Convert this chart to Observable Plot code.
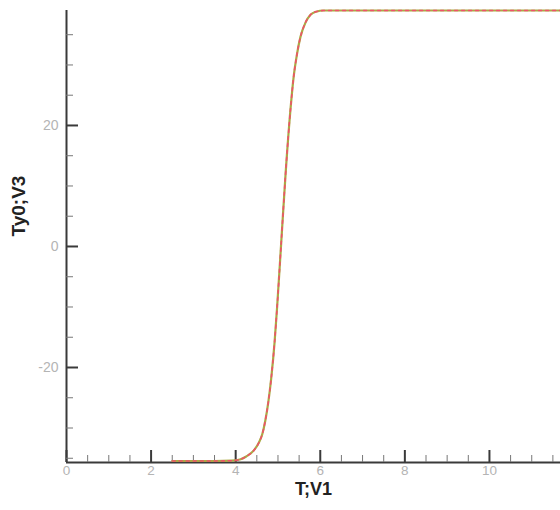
<!DOCTYPE html>
<html>
<head>
<meta charset="utf-8">
<script src="https://cdn.jsdelivr.net/npm/d3@7"></script>
<script src="https://cdn.jsdelivr.net/npm/@observablehq/plot@0.6"></script>
<style>
  html, body { margin: 0; padding: 0; background: #fff; }
  #chart svg { display: block; }
</style>
</head>
<body>
<div id="chart"></div>
<script>
// Data
const tValues = [2.5, 3.0, 3.5, 3.9, 4.1, 4.25, 4.43, 4.55, 4.63, 4.70, 4.77, 4.84, 4.92, 4.98, 5.08, 5.18, 5.30, 5.37, 5.45, 5.53, 5.65, 5.77, 5.9, 6.08, 6.5, 11.68];
const ty0Values = [-35.45, -35.45, -35.45, -35.4, -35.2, -34.7, -33.7, -32.4, -31.0, -28.8, -25.8, -21.8, -15.8, -10.0, 1.0, 12.0, 23.0, 28.0, 31.8, 34.6, 37.0, 38.3, 38.8, 39, 39, 39];
const xMajorTicks = [0, 2, 4, 6, 8, 10];
const xMinorTicks = [0.5, 1, 1.5, 2.5, 3, 3.5, 4.5, 5, 5.5, 6.5, 7, 7.5, 8.5, 9, 9.5, 10.5, 11, 11.5];
const yMajorTicks = [-20, 0, 20];
const yMinorTicks = [-35, -30, -25, -15, -10, -5, 5, 10, 15, 25, 30, 35];
const xTitle = "T;V1";
const yTitle = "Ty0;V3";

const data = tValues.map((t, i) => ({t, v: ty0Values[i]}));

const font = "Liberation Sans, Arial, sans-serif";
const labelColor = "#b4b4b4";
const axisColor = "#3a3a3a";

const chart = Plot.plot({
  width: 560,
  height: 510,
  marginLeft: 66,
  marginRight: 0,
  marginTop: 10,
  marginBottom: 48,
  style: {fontFamily: font, background: "#fff"},
  x: {domain: [0, 11.68]},
  y: {domain: [-35.7, 39]},
  marks: [
    // axis lines
    Plot.ruleX([0], {stroke: axisColor, strokeWidth: 2}),
    Plot.ruleY([-35.7], {stroke: axisColor, strokeWidth: 2}),
    // inward ticks
    Plot.axisX(xMajorTicks, {tickSize: -12, tickFormat: () => "", stroke: axisColor, strokeWidth: 2, label: null}),
    Plot.axisX(xMinorTicks, {tickSize: -7, tickFormat: () => "", stroke: "#777", strokeWidth: 1, label: null}),
    Plot.axisY(yMajorTicks, {tickSize: -12, tickFormat: () => "", stroke: axisColor, strokeWidth: 2, label: null}),
    Plot.axisY(yMinorTicks, {tickSize: -7, tickFormat: () => "", stroke: "#777", strokeWidth: 1, label: null}),
    // tick labels
    Plot.axisX(xMajorTicks, {tickSize: 0, tickPadding: 3, fill: labelColor, fontSize: 13.5, label: null, tickFormat: d => String(d)}),
    Plot.axisY(yMajorTicks, {tickSize: 0, tickPadding: 8, fill: labelColor, fontSize: 14, label: null, tickFormat: d => String(d)}),
    // axis titles
    Plot.text([xTitle], {frameAnchor: "bottom", dy: 32, text: d => d, fontSize: 18, fontWeight: "bold", fill: "#222"}),
    Plot.text([yTitle], {frameAnchor: "left", dx: -48, rotate: -90, text: d => d, fontSize: 19, fontWeight: "bold", fill: "#222"}),
    // curves (drawn last so they sit on top of the axis line)
    Plot.line(data, {x: "t", y: "v", stroke: "#aaaa44", strokeWidth: 2.2, curve: "monotone-x"}),
    Plot.line(data, {x: "t", y: "v", stroke: "#f0506a", strokeWidth: 1.6, strokeDasharray: "3,4", curve: "monotone-x"})
  ]
});
document.getElementById("chart").append(chart);
</script>
</body>
</html>
